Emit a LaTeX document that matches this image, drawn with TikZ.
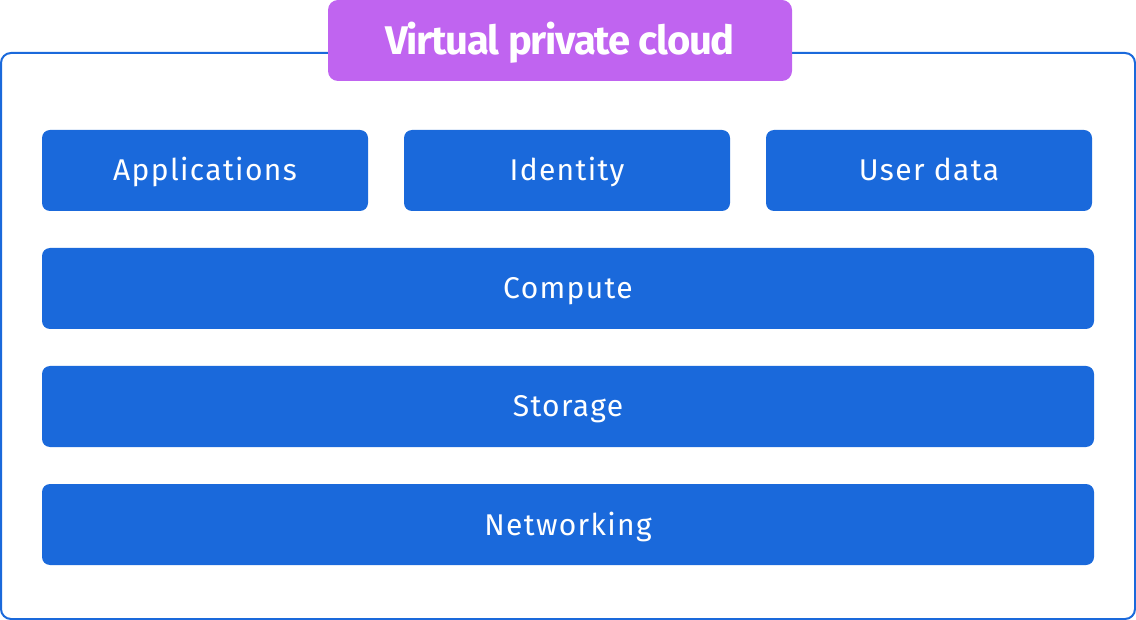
\documentclass[tikz,border=0pt]{standalone}
\usepackage{fontspec}
\setmainfont{Fira Sans}
\newfontfamily\boxfont[LetterSpace=4.5]{Fira Sans}
\newfontfamily\titlefont[LetterSpace=-3]{Fira Sans Bold}
\definecolor{vpcblue}{HTML}{1A69DB}
\definecolor{vpcpurple}{HTML}{C064F0}
\begin{document}
\begin{tikzpicture}[x=1pt,y=-1pt,
  layer/.style={fill=vpcblue, rounded corners=8pt, text=white, inner sep=0pt,
    minimum height=81pt, text height=21pt, text depth=0pt,
    font=\boxfont\fontsize{30}{34}\selectfont},
  small/.style={layer, minimum width=326pt},
  wide/.style={layer, minimum width=1052pt},
]
\useasboundingbox (0,0) rectangle (1136,620);
\draw[vpcblue, line width=2pt, rounded corners=10pt] (1,53) rectangle (1135,619);
\node[fill=vpcpurple, rounded corners=10pt, minimum width=464pt, minimum height=81pt,
  inner sep=0pt, text height=28pt, text depth=0pt, text=white,
  font=\titlefont\fontsize{40}{46}\selectfont] (title) at (560,40.5) {Virtual private cloud};
\node[small] (apps) at (205,170.5) {Applications};
\node[small] (ident) at (567,170.5) {Identity};
\node[small] (udata) at (929,170.5) {User data};
\node[wide] (compute) at (568,288.5) {Compute};
\node[wide] (storage) at (568,406.5) {Storage};
\node[wide] (net) at (568,524.5) {Networking};
\end{tikzpicture}
\end{document}
